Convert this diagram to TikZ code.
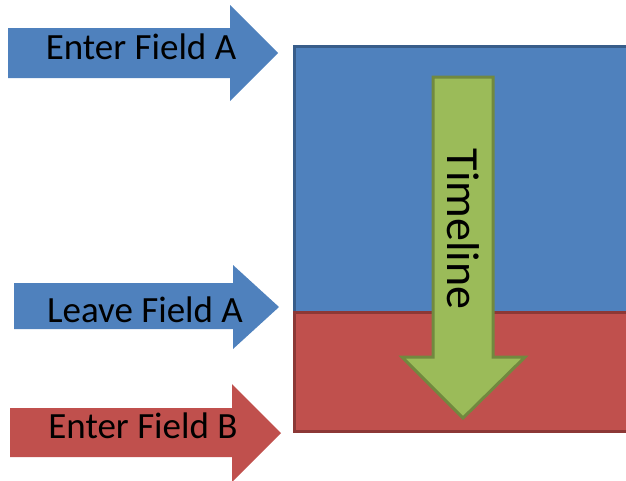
\documentclass[tikz,border=0pt]{standalone}
\usepackage{fontspec}
\setmainfont{Carlito}
\definecolor{fblue}{HTML}{4F81BD}
\definecolor{dblue}{HTML}{385D8A}
\definecolor{fred}{HTML}{C0504D}
\definecolor{dred}{HTML}{8C3836}
\definecolor{fgreen}{HTML}{9BBB59}
\definecolor{dgreen}{HTML}{71893F}
\begin{document}
\begin{tikzpicture}[x=1pt,y=-1pt,
  lbl/.style={font=\fontsize{37}{40}\selectfont, inner sep=0pt, anchor=base, text=black},
  field/.style={line width=3pt, line join=miter}]
\useasboundingbox (0,0) rectangle (626,480);
\begin{scope}
\clip (0,0) rectangle (626,480);
% field rectangles
\filldraw[field, fill=fblue, draw=dblue] (294,46) rectangle (640,312);
\filldraw[field, fill=fred, draw=dred] (294,312) rectangle (640,431);
% left arrows
\fill[fblue] (8,28) -- (230,28) -- (230,5) -- (278,53) -- (230,101) -- (230,78) -- (8,78) -- cycle;
\fill[fblue] (14,283) -- (233,283) -- (233,265) -- (279,307) -- (233,349) -- (233,329) -- (14,329) -- cycle;
\fill[fred] (10,408) -- (232,408) -- (232,384) -- (281,433) -- (232,482) -- (232,457) -- (10,457) -- cycle;
% timeline arrow
\filldraw[fill=fgreen, draw=dgreen, line width=3pt, line join=miter]
  (433,77) -- (493,77) -- (493,357) -- (525,357) -- (463,418) -- (402,357) -- (433,357) -- cycle;
\end{scope}
\node[lbl] (enterA) at (141,59) {Enter Field A};
\node[lbl] (leaveA) at (145,322) {Leave Field A};
\node[lbl] (enterB) at (143,438) {Enter Field B};
\node[font=\fontsize{46}{50}\selectfont, inner sep=0pt, anchor=base, rotate=-90] (timeline) at (447,229) {Timeline};
\end{tikzpicture}
\end{document}
